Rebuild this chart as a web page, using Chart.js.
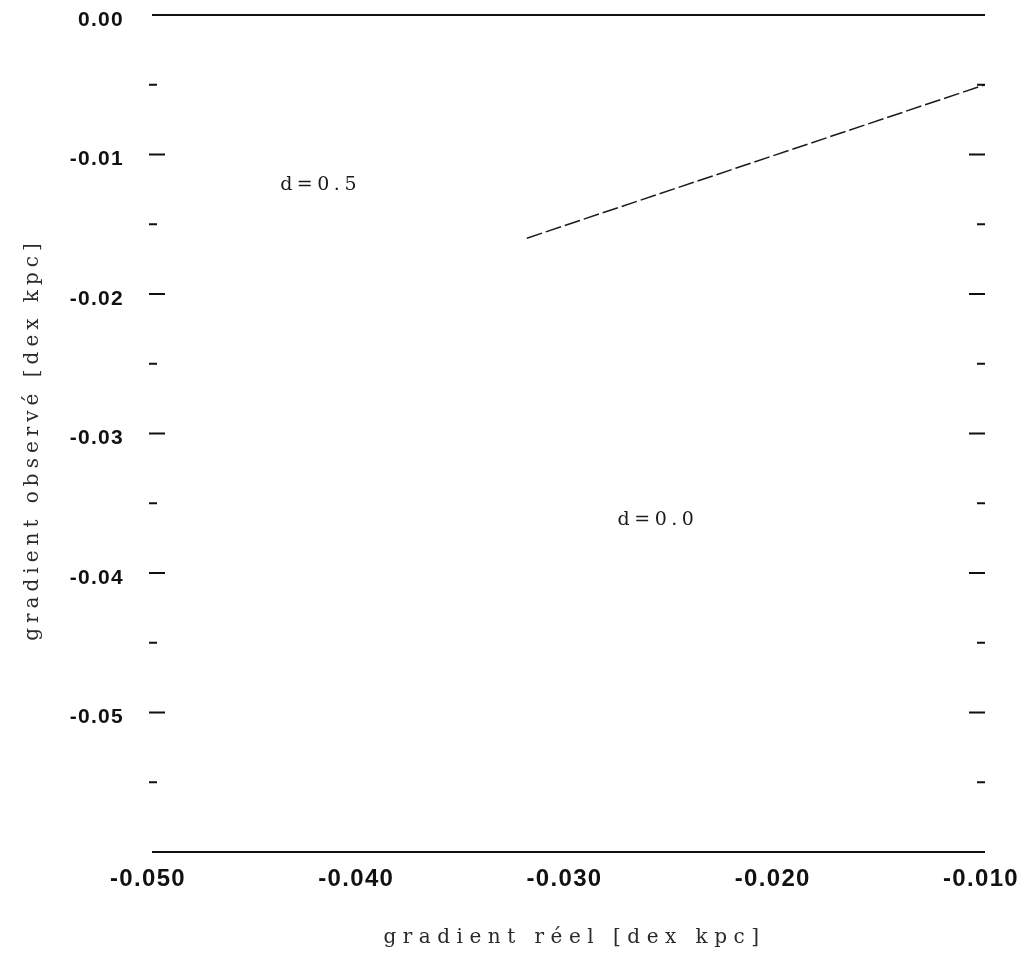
<!DOCTYPE html>
<html>
<head>
<meta charset="utf-8">
<script src="https://cdn.jsdelivr.net/npm/chart.js@4.4.1/dist/chart.umd.min.js"></script>
<style>
  html, body { margin: 0; padding: 0; background: #fff; }
  #wrap { width: 1025px; height: 958px; }
</style>
</head>
<body>
<div id="wrap"><canvas id="c" width="1025" height="958"></canvas></div>
<script>
// ---- data ----
const lineRealGradient = [-0.032, -0.010];
const lineObservedGradient = [-0.016, -0.005];
const xTickValues = [-0.05, -0.04, -0.03, -0.02, -0.01];
const yLabelTicks = [0, -0.01, -0.02, -0.03, -0.04, -0.05];
const yMajorTicks = [-0.01, -0.02, -0.03, -0.04, -0.05];
const yMinorTicks = [-0.005, -0.015, -0.025, -0.035, -0.045, -0.055];
const annotationTexts = ["d=0.5", "d=0.0"];
const annotationX = [-0.0420, -0.0258];
const annotationY = [-0.0122, -0.0362];
const xTitle = "gradient réel [dex kpc]";
const yTitle = "gradient observé [dex kpc]";

const points = lineRealGradient.map((x, i) => ({ x: x, y: lineObservedGradient[i] }));

const spacingPlugin = {
  id: 'spacing',
  beforeUpdate(chart) { chart.ctx.letterSpacing = '1.3px'; },
  beforeLayout(chart) { chart.ctx.letterSpacing = '1.3px'; },
  beforeDraw(chart) { chart.ctx.letterSpacing = '1.3px'; }
};

const framePlugin = {
  id: 'frame',
  afterDraw(chart) {
    const ctx = chart.ctx;
    const xs = chart.scales.x, ys = chart.scales.y;
    const a = chart.chartArea;
    ctx.save();
    ctx.strokeStyle = '#111';
    ctx.lineWidth = 2;
    // top and bottom frame lines
    ctx.beginPath();
    ctx.moveTo(a.left, ys.getPixelForValue(ys.max));
    ctx.lineTo(a.right, ys.getPixelForValue(ys.max));
    ctx.moveTo(a.left, ys.getPixelForValue(ys.min));
    ctx.lineTo(a.right, ys.getPixelForValue(ys.min));
    ctx.stroke();
    // inward tick marks on left and right
    ctx.beginPath();
    yMajorTicks.forEach(v => {
      const py = ys.getPixelForValue(v);
      ctx.moveTo(a.left - 3, py); ctx.lineTo(a.left + 13, py);
      ctx.moveTo(a.right - 16, py); ctx.lineTo(a.right, py);
    });
    yMinorTicks.forEach(v => {
      const py = ys.getPixelForValue(v);
      ctx.moveTo(a.left - 3, py); ctx.lineTo(a.left + 5, py);
      ctx.moveTo(a.right - 8, py); ctx.lineTo(a.right, py);
    });
    ctx.stroke();
    // annotations
    ctx.fillStyle = '#1a1a1a';
    ctx.font = '19px "DejaVu Serif", "Liberation Serif", serif';
    ctx.textAlign = 'center';
    ctx.textBaseline = 'middle';
    ctx.letterSpacing = '4.5px';
    annotationTexts.forEach((t, i) => {
      ctx.fillText(t, xs.getPixelForValue(annotationX[i]) + 2, ys.getPixelForValue(annotationY[i]));
    });
    // axis titles
    ctx.fillStyle = '#2a2a2a';
    ctx.font = '20px "DejaVu Serif", "Liberation Serif", serif';
    ctx.textBaseline = 'alphabetic';
    ctx.letterSpacing = '6.5px';
    ctx.fillText(xTitle, (a.left + a.right) / 2 + 6, 943);
    ctx.save();
    ctx.letterSpacing = '5px';
    ctx.translate(38, (a.top + a.bottom) / 2 + 6);
    ctx.rotate(-Math.PI / 2);
    ctx.fillText(yTitle, 0, 0);
    ctx.restore();
    ctx.restore();
  }
};

new Chart(document.getElementById('c'), {
  type: 'scatter',
  data: {
    datasets: [{
      data: points,
      showLine: true,
      borderColor: '#1a1a1a',
      borderWidth: 1.5,
      borderDash: [16, 4],
      pointRadius: 0,
      fill: false
    }]
  },
  options: {
    responsive: false,
    animation: false,
    events: [],
    layout: { padding: { top: 15, right: 40, left: 0, bottom: 0 } },
    plugins: { legend: { display: false }, tooltip: { enabled: false } },
    scales: {
      x: {
        type: 'linear',
        min: -0.05, max: -0.01,
        afterFit(s) { s.height = 106; s.paddingLeft = 0; s.paddingRight = 0; },
        afterBuildTicks(s) { s.ticks = xTickValues.map(v => ({ value: v })); },
        grid: { display: false, drawTicks: false },
        border: { display: false },
        ticks: {
          color: '#111',
          padding: 13,
          labelOffset: -4,
          maxRotation: 0,
          autoSkip: false,
          font: { family: '"Liberation Sans", Arial, sans-serif', size: 24, weight: 'bold' },
          callback: v => Number(v).toFixed(3)
        }
      },
      y: {
        type: 'linear',
        min: -0.06, max: 0,
        afterFit(s) { s.width = 152; s.paddingTop = 0; s.paddingBottom = 0; },
        afterBuildTicks(s) { s.ticks = yLabelTicks.map(v => ({ value: v })); },
        grid: { display: false, drawTicks: false },
        border: { display: false },
        ticks: {
          color: '#111',
          padding: 28,
          labelOffset: 5,
          autoSkip: false,
          font: { family: '"Liberation Sans", Arial, sans-serif', size: 21, weight: 'bold' },
          callback: v => Number(v).toFixed(2)
        }
      }
    }
  },
  plugins: [spacingPlugin, framePlugin]
});
</script>
</body>
</html>
